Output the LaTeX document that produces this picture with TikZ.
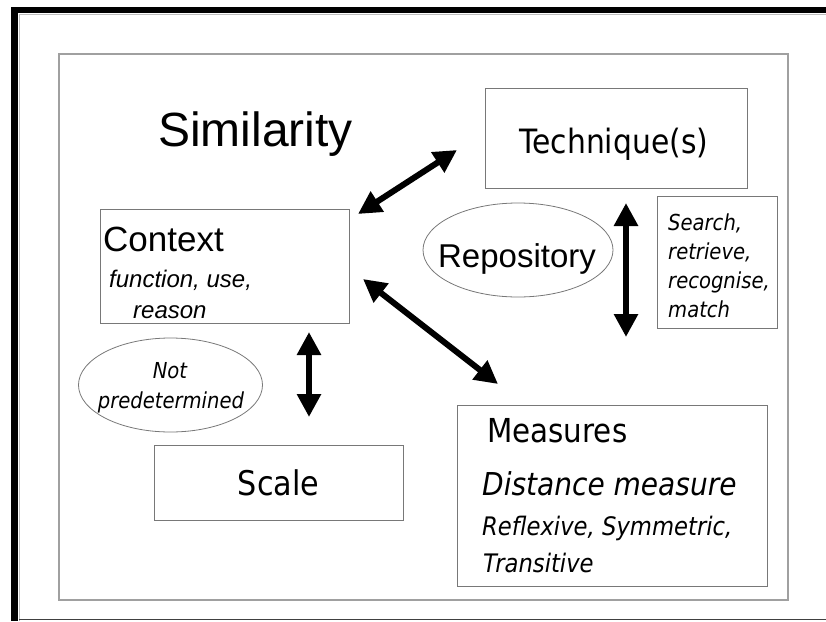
\documentclass[tikz,border=0pt]{standalone}
\usepackage{fontspec}
\setmainfont{Liberation Sans}
\newfontfamily\tah[FakeStretch=0.89]{DejaVu Sans}
\usetikzlibrary{arrows.meta,shapes.geometric}
\definecolor{framegray}{RGB}{160,160,160}
\definecolor{boxgray}{RGB}{120,120,120}
\definecolor{lightedge}{RGB}{190,190,190}
\tikzset{
  box/.style={draw=boxgray, line width=1pt, rectangle, inner sep=0pt},
  oval/.style={draw=boxgray, line width=0.8pt, ellipse, inner sep=0pt},
  txt/.style={anchor=base west, inner sep=0pt},
  dbl/.style={line width=6pt,
    {Triangle[width=23pt,length=23pt]}-{Triangle[width=23pt,length=23pt]}},
}
\begin{document}
\begin{tikzpicture}[x=1pt,y=-1pt]
\useasboundingbox (0,0) rectangle (826,621);
% outer slide frame
\fill[black] (11,7) rectangle (826,13);
\fill[black] (11,7) rectangle (18,621);
\draw[lightedge, line width=1pt] (19.5,621) -- (19.5,14.5) -- (826,14.5);
\draw[black!75, line width=1.5pt] (19,619.5) -- (826,619.5);
% inner frame
\node[draw=framegray, line width=1.5pt, inner sep=0pt,
      minimum width=729pt, minimum height=546pt] (slide) at (423.5,327) {};

% title
\node[txt, font=\fontsize{48}{56}\selectfont] (title) at (158,146) {Similarity};

% Technique(s)
\node[box, minimum width=262pt, minimum height=100pt] (tech) at (616,138) {};
\node[txt, font=\tah\fontsize{33.5}{40}\selectfont] (techl) at (519,153) {Technique(s)};

% Search box
\node[box, minimum width=120pt, minimum height=132pt] (search) at (717,262) {};
\node[txt, font=\tah\itshape\fontsize{22}{29}\selectfont] (s1) at (668,230) {Search,};
\node[txt, font=\tah\itshape\fontsize{22}{29}\selectfont] (s2) at (668,259) {retrieve,};
\node[txt, font=\tah\itshape\fontsize{22}{29}\selectfont] (s3) at (668,288) {recognise,};
\node[txt, font=\tah\itshape\fontsize{22}{29}\selectfont] (s4) at (668,317) {match};

% Repository
\node[oval, minimum width=190pt, minimum height=94pt] (repo) at (518,250) {};
\node[font=\fontsize{33}{40}\selectfont, anchor=base, inner sep=0pt] (repol) at (517,267) {Repository};

% Context
\node[box, minimum width=249pt, minimum height=114pt] (ctx) at (224.5,266) {};
\node[txt, font=\fontsize{35}{42}\selectfont] (ctxl) at (103,251) {Context};
\node[txt, font=\itshape\fontsize{24}{30}\selectfont] (c1) at (109,287) {function, use,};
\node[txt, font=\itshape\fontsize{24}{30}\selectfont] (c2) at (133,318) {reason};

% Not predetermined
\node[oval, minimum width=184pt, minimum height=94pt] (notp) at (170.5,385) {};
\node[font=\tah\itshape\fontsize{22}{29}\selectfont, anchor=base, inner sep=0pt] (n1) at (170,378) {Not};
\node[font=\tah\itshape\fontsize{22}{29}\selectfont, anchor=base, inner sep=0pt] (n2) at (171,408) {predetermined};

% Scale
\node[box, minimum width=249pt, minimum height=75pt] (scale) at (278.5,482.5) {};
\node[font=\tah\fontsize{34}{40}\selectfont, anchor=base, inner sep=0pt] (scalel) at (278.5,495) {Scale};

% Measures
\node[box, minimum width=310pt, minimum height=181pt] (meas) at (612,495.5) {};
\node[txt, font=\tah\fontsize{33}{40}\selectfont] (m1) at (487,442) {Measures};
\node[txt, font=\tah\itshape\fontsize{31.5}{36}\selectfont] (m2) at (482,495) {Distance measure};
\node[txt, font=\tah\itshape\fontsize{25.5}{30}\selectfont] (m3) at (482,535) {Reflexive, Symmetric,};
\node[txt, font=\tah\itshape\fontsize{25.5}{30}\selectfont] (m4) at (483,572) {Transitive};

% arrow ends
\coordinate (ctxTR) at (358,214);
\coordinate (techL) at (457,150);
\coordinate (ctxR) at (363,279);
\coordinate (measTL) at (498,384);
\coordinate (techB) at (626,203);
\coordinate (searchL) at (626,337);
\coordinate (ctxB) at (309,332);
\coordinate (scaleT) at (309,417);

% connectors
\draw[dbl] (ctxTR) -- (techL);
\draw[dbl] (ctxR) -- (measTL);
\draw[dbl] (techB) -- (searchL);
\draw[dbl] (ctxB) -- (scaleT);
\end{tikzpicture}
\end{document}
